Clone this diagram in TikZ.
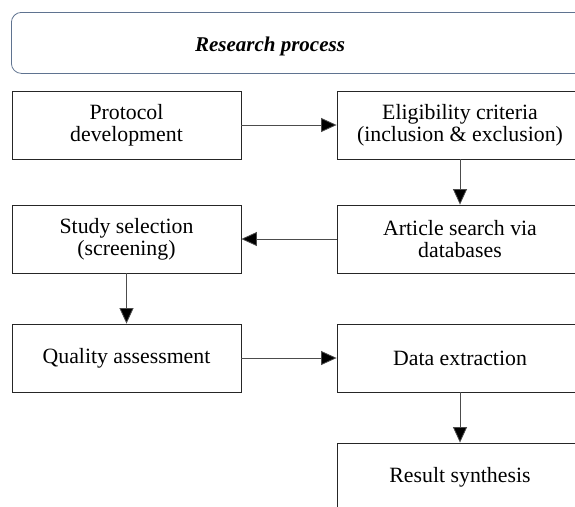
\documentclass[tikz,border=0pt]{standalone}
\usepackage{fontspec}
\setmainfont{Liberation Serif}
\usetikzlibrary{arrows.meta}
\definecolor{titleborder}{HTML}{5F7390}
\begin{document}
\begin{tikzpicture}[x=1pt,y=-1pt,
  box/.style={draw=black!85, line width=0.8pt, minimum width=229pt, minimum height=68pt, inner sep=0pt, align=center,
    font=\fontsize{21.8}{21.7}\selectfont},
  widebox/.style={box, minimum width=246pt},
  conn/.style={draw=black!70, line width=0.8pt, -{Triangle[length=15.5pt,width=14pt,fill=black]}}]
\useasboundingbox (0,0) rectangle (575,506);
\clip (0,0) rectangle (575,506);
\node[draw=titleborder, line width=0.8pt, rounded corners=10pt, minimum width=600pt, minimum height=61pt, anchor=north west, inner sep=0pt] (titlebox) at (11,12) {};
\node[font=\fontsize{21}{24}\selectfont\bfseries\itshape] (title) at (270,46) {Research process};
\node[box] (proto) at (126.5,125) {Protocol\\development};
\node[widebox] (elig) at (460,125) {Eligibility criteria\\(inclusion \& exclusion)};
\node[widebox] (article) at (460,239) {Article search via\\databases};
\node[box] (study) at (126.5,239) {Study selection\\(screening)};
\node[box] (quality) at (126.5,358) {Quality assessment};
\node[widebox] (data) at (460,358) {Data extraction};
\node[widebox] (result) at (460,477) {Result synthesis};
\draw[conn] (proto) -- (elig);
\draw[conn] (elig) -- (article);
\draw[conn] (article) -- (study);
\draw[conn] (study) -- (quality);
\draw[conn] (quality) -- (data);
\draw[conn] (data) -- (result);
\end{tikzpicture}
\end{document}
